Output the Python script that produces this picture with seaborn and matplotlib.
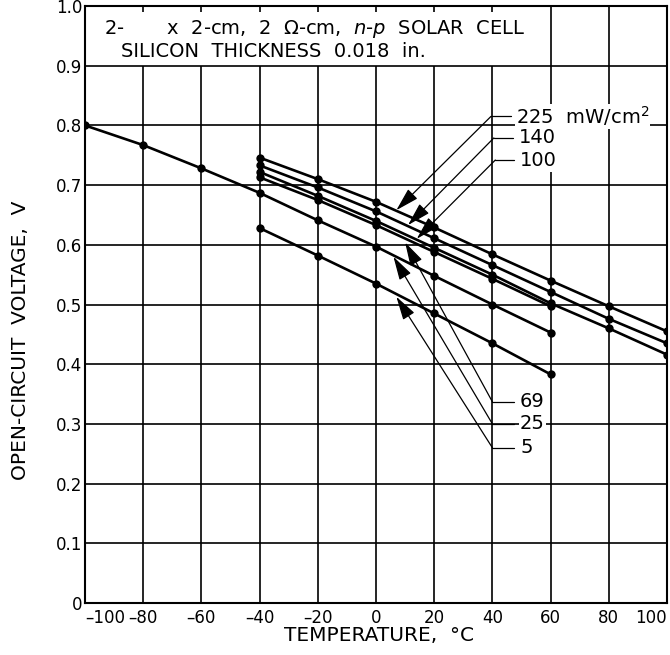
import matplotlib
matplotlib.use("Agg")
import matplotlib.pyplot as plt
import numpy as np
import pandas as pd
import seaborn as sns

# Open-circuit voltage vs temperature, one series per illumination level (mW/cm^2)
temps_225 = [-40, -20, 0, 20, 40, 60, 80, 100]
voc_225 = [0.746, 0.710, 0.672, 0.629, 0.584, 0.540, 0.497, 0.455]

temps_140 = [-40, -20, 0, 20, 40, 60, 80, 100]
voc_140 = [0.733, 0.696, 0.656, 0.611, 0.566, 0.521, 0.476, 0.435]

temps_100 = [-40, -20, 0, 20, 40, 60, 80, 100]
voc_100 = [0.722, 0.682, 0.640, 0.595, 0.550, 0.502, 0.460, 0.416]

temps_69 = [-40, -20, 0, 20, 40, 60]
voc_69 = [0.713, 0.675, 0.633, 0.588, 0.543, 0.497]

temps_25 = [-100, -80, -60, -40, -20, 0, 20, 40, 60]
voc_25 = [0.800, 0.767, 0.728, 0.687, 0.641, 0.597, 0.548, 0.500, 0.453]

temps_5 = [-40, -20, 0, 20, 40, 60]
voc_5 = [0.628, 0.582, 0.535, 0.485, 0.435, 0.383]

intensities = [225, 140, 100, 69, 25, 5]

x_ticks = [-100, -80, -60, -40, -20, 0, 20, 40, 60, 80, 100]
x_tick_labels = ["–100", "–80", "–60", "–40", "–20", "0", "20", "40", "60", "80", "100"]
y_ticks = [0, 0.1, 0.2, 0.3, 0.4, 0.5, 0.6, 0.7, 0.8, 0.9, 1.0]
y_tick_labels = ["0", "0.1", "0.2", "0.3", "0.4", "0.5", "0.6", "0.7", "0.8", "0.9", "1.0"]

series = {
    225: (temps_225, voc_225),
    140: (temps_140, voc_140),
    100: (temps_100, voc_100),
    69: (temps_69, voc_69),
    25: (temps_25, voc_25),
    5: (temps_5, voc_5),
}
df = pd.concat(
    [pd.DataFrame({"temp": t, "voc": v, "intensity": k}) for k, (t, v) in series.items()],
    ignore_index=True,
)

sns.set_style("white")
plt.rcParams["font.family"] = ["DejaVu Sans"]
plt.rcParams["text.color"] = "black"
plt.rcParams["axes.labelcolor"] = "black"
plt.rcParams["xtick.color"] = "black"
plt.rcParams["ytick.color"] = "black"

fig = plt.figure(figsize=(6.7, 6.55), dpi=100)
ax = fig.add_axes([85 / 670, 52 / 655, 582 / 670, 597 / 655])

# grid: verticals left of 60 stop under the caption box; the 60 line breaks for the labels
grid_kw = dict(color="black", lw=1.2, zorder=1)
ax.vlines([-80, -60, -40, -20, 0, 20, 40], 0, 0.9, **grid_kw)
ax.vlines([80], 0, 1.0, **grid_kw)
ax.vlines([60, 60], [0, 0.80], [0.722, 1.0], **grid_kw)
ax.hlines([0.1, 0.2, 0.3, 0.4, 0.5, 0.6, 0.7, 0.8, 0.9], -100, 100, **grid_kw)
ax.vlines([-80, -60, -40, -20, 0, 20, 40], 0.99, 1.0, **grid_kw)

sns.lineplot(
    data=df, x="temp", y="voc", hue="intensity",
    palette={k: "black" for k in intensities},
    estimator=None, sort=False, legend=False,
    marker="o", markersize=6, markeredgewidth=0, linewidth=1.9,
    ax=ax, zorder=3,
)

ax.set_xlim(-100, 100)
ax.set_ylim(0, 1.0)
ax.set_xticks(x_ticks)
ax.set_xticklabels(x_tick_labels)
ax.set_yticks(y_ticks)
ax.set_yticklabels(y_tick_labels)
ax.tick_params(axis="both", length=0, labelsize=12, colors="black")
ax.tick_params(axis="x", pad=4)
ax.tick_params(axis="y", pad=2)
xl = ax.get_xticklabels()
xl[0].set_ha("left")
xl[-1].set_ha("right")

for s in ax.spines.values():
    s.set_color("black")
    s.set_linewidth(1.5)

ax.set_xlabel("TEMPERATURE,  °C", fontsize=14.5)
ax.xaxis.set_label_coords(0.505, -0.038)
ax.set_ylabel("OPEN-CIRCUIT  VOLTAGE,  V", fontsize=14.5)
ax.yaxis.set_label_coords(-0.095, 0.44)

# caption inside the boxed top-left cell
ax.text(-93.5, 0.962, "2-       x  2-cm,  2  Ω-cm,  $\\mathit{n}$-$\\mathit{p}$  SOLAR  CELL",
        fontsize=14, va="center", ha="left", zorder=4)
ax.text(-87.5, 0.924, "SILICON  THICKNESS  0.018  in.",
        fontsize=14, va="center", ha="left", zorder=4)

arrow_style = "-|>,head_length=0.85,head_width=0.24"


def leader(text, tip, corner, seg_end, text_x):
    ax.plot([corner[0], seg_end], [corner[1], corner[1]], color="black", lw=0.9, zorder=4)
    ax.annotate("", xy=tip, xytext=corner,
                arrowprops=dict(arrowstyle=arrow_style, mutation_scale=17,
                                color="black", lw=0.9, shrinkA=0, shrinkB=0),
                zorder=4)
    ax.text(text_x, corner[1], text, fontsize=14, va="center", ha="left", zorder=5,
            bbox=dict(facecolor="white", edgecolor="none", pad=0.5))


leader(f"{intensities[0]}  mW/cm$^2$", (7, 0.658), (39.5, 0.815), 46.5, 48)
leader(f"{intensities[1]}", (11, 0.633), (40.5, 0.779), 47.0, 49)
leader(f"{intensities[2]}", (14, 0.610), (41.0, 0.742), 47.5, 49.5)
leader(f"{intensities[3]}", (10, 0.604), (40, 0.337), 47.5, 49.5)
leader(f"{intensities[4]}", (6, 0.580), (40, 0.300), 47.5, 49.5)
leader(f"{intensities[5]}", (7, 0.513), (40, 0.260), 47.5, 49.5)

fig.savefig("out.png", dpi=100, facecolor="white")
